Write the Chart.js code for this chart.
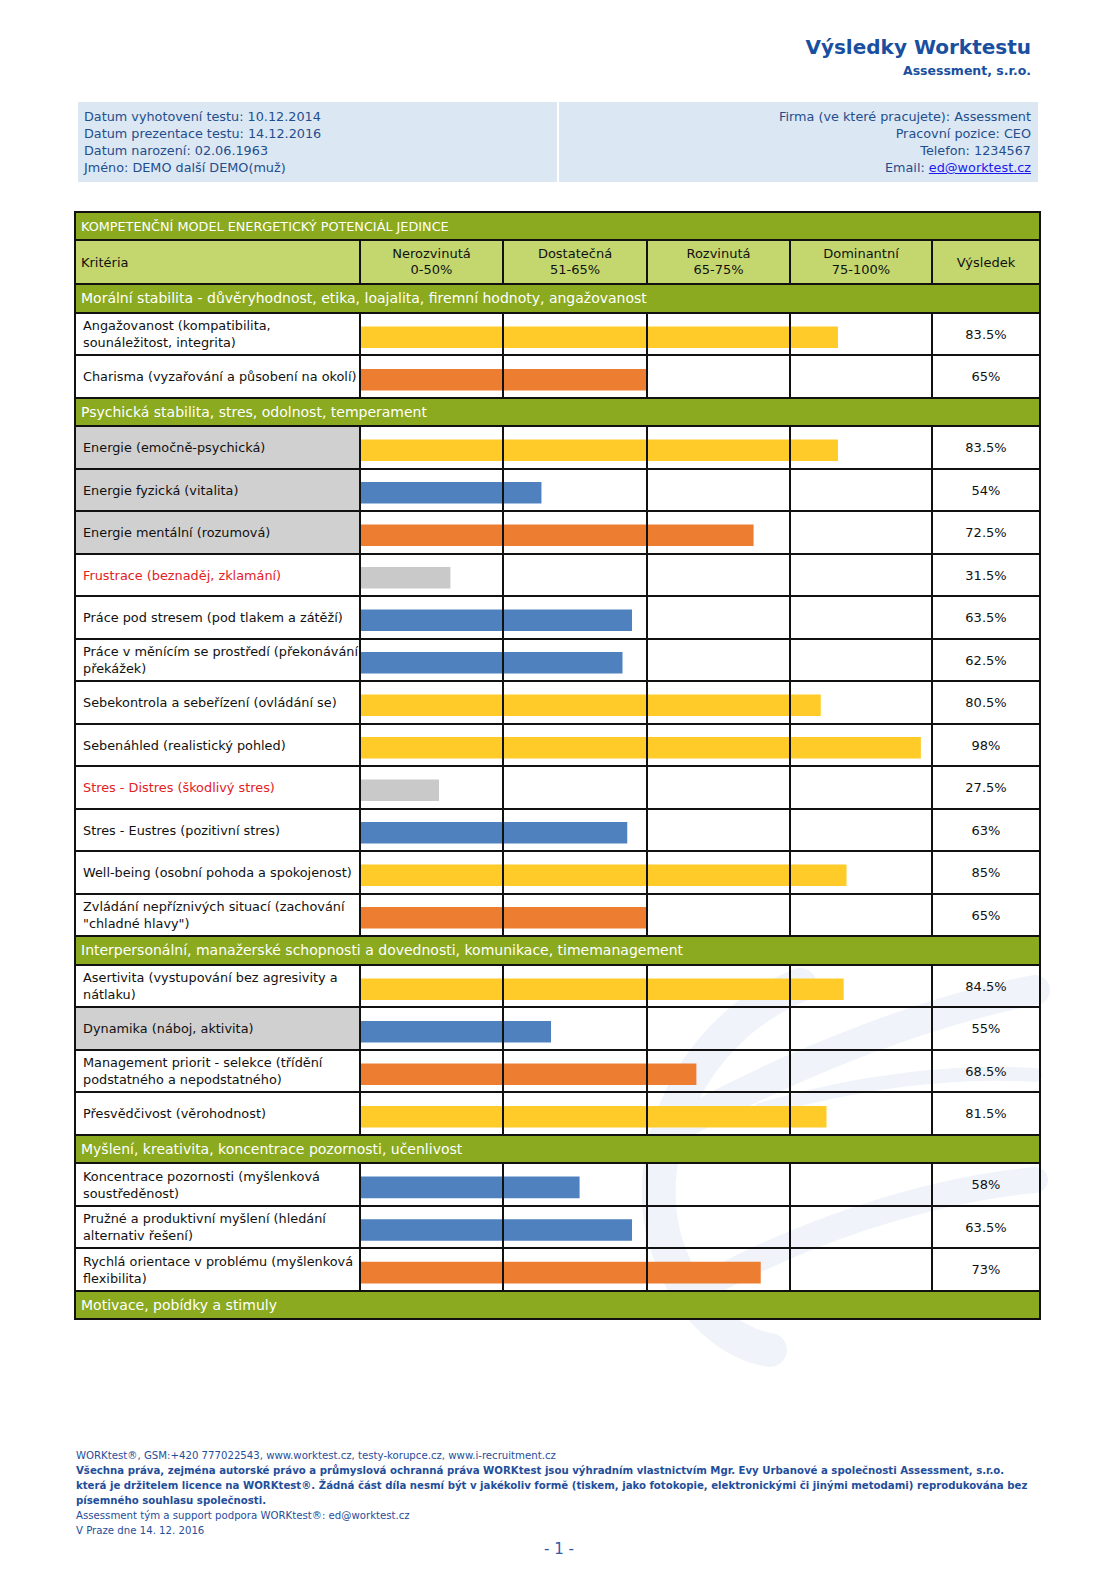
<!DOCTYPE html>
<html><head><meta charset="utf-8">
<script src="https://cdn.jsdelivr.net/npm/chart.js@4.4.1/dist/chart.umd.min.js"></script>
<style>
html,body{margin:0;padding:0;background:#fff;}
body{width:1119px;height:1582px;position:relative;overflow:hidden;font-family:"DejaVu Sans",sans-serif;}
.a{position:absolute;box-sizing:border-box;}
.cell{display:flex;align-items:center;white-space:pre;line-height:17px;font-size:13px;color:#111;}
.line{background:#111;z-index:5;}
canvas{position:absolute;z-index:2;}
.foot{position:absolute;left:76px;font-family:"DejaVu Sans Condensed","DejaVu Sans",sans-serif;font-size:11.3px;color:#1f4e9a;white-space:nowrap;line-height:15px;}
#wm{position:absolute;left:0;top:0;z-index:0;}
</style></head><body>
<svg id="wm" width="1119" height="1582">
  <g fill="none" stroke="#F0F4FA" stroke-linecap="round">
    <path d="M 800 985 C 690 1030, 640 1150, 665 1240 C 690 1320, 740 1345, 770 1350" stroke-width="34"/>
    <path d="M 690 1120 C 800 1060, 930 1010, 1035 990" stroke-width="30"/>
    <path d="M 680 1300 C 800 1230, 930 1190, 1035 1180" stroke-width="26"/>
    <path d="M 760 1110 C 860 1080, 960 1070, 1035 1075" stroke-width="14"/>
  </g>
</svg>
<script>
// ---------------- DATA ----------------
const reportTitle = "Výsledky Worktestu";
const reportCompany = "Assessment, s.r.o.";
const infoLeft = ["Datum vyhotovení testu: 10.12.2014","Datum prezentace testu: 14.12.2016","Datum narození: 02.06.1963","Jméno: DEMO další DEMO(muž)"];
const infoRight = ["Firma (ve které pracujete): Assessment","Pracovní pozice: CEO","Telefon: 1234567"];
const infoEmail = "ed@worktest.cz";
const tableTitle = "KOMPETENČNÍ MODEL ENERGETICKÝ POTENCIÁL JEDINCE";
const criteriaHeader = "Kritéria";
const resultHeader = "Výsledek";
const levelNames = ["Nerozvinutá","Dostatečná","Rozvinutá","Dominantní"];
const levelRanges = ["0-50%","51-65%","65-75%","75-100%"];
const levelBreaks = [0, 50, 65, 75, 100];
const sectionTitles = [
  "Morální stabilita - důvěryhodnost, etika, loajalita, firemní hodnoty, angažovanost",
  "Psychická stabilita, stres, odolnost, temperament",
  "Interpersonální, manažerské schopnosti a dovednosti, komunikace, timemanagement",
  "Myšlení, kreativita, koncentrace pozornosti, učenlivost",
  "Motivace, pobídky a stimuly"
];
const moralLabels = ["Angažovanost (kompatibilita,\nsounáležitost, integrita)","Charisma (vyzařování a působení na okolí)"];
const moralValues = [83.5, 65];
const psychLabels = ["Energie (emočně-psychická)","Energie fyzická (vitalita)","Energie mentální (rozumová)","Frustrace (beznaděj, zklamání)","Práce pod stresem (pod tlakem a zátěží)","Práce v měnícím se prostředí (překonávání\npřekážek)","Sebekontrola a sebeřízení (ovládání se)","Sebenáhled (realistický pohled)","Stres - Distres (škodlivý stres)","Stres - Eustres (pozitivní stres)","Well-being (osobní pohoda a spokojenost)","Zvládání nepříznivých situací (zachování\n\"chladné hlavy\")"];
const psychValues = [83.5, 54, 72.5, 31.5, 63.5, 62.5, 80.5, 98, 27.5, 63, 85, 65];
const interLabels = ["Asertivita (vystupování bez agresivity a\nnátlaku)","Dynamika (náboj, aktivita)","Management priorit - selekce (třídění\npodstatného a nepodstatného)","Přesvědčivost (věrohodnost)"];
const interValues = [84.5, 55, 68.5, 81.5];
const thinkLabels = ["Koncentrace pozornosti (myšlenková\nsoustředěnost)","Pružné a produktivní myšlení (hledání\nalternativ řešení)","Rychlá orientace v problému (myšlenková\nflexibilita)"];
const thinkValues = [58, 63.5, 73];
const motivLabels = [];
const motivValues = [];
const negativeTraits = ["Frustrace (beznaděj, zklamání)","Stres - Distres (škodlivý stres)"];
const highlightedTraits = ["Energie (emočně-psychická)","Energie fyzická (vitalita)","Energie mentální (rozumová)","Dynamika (náboj, aktivita)"];
const footerLines = [
  "WORKtest®, GSM:+420 777022543, www.worktest.cz, testy-korupce.cz, www.i-recruitment.cz",
  "Všechna práva, zejména autorské právo a průmyslová ochranná práva WORKtest jsou výhradním vlastnictvím Mgr. Evy Urbanové a společnosti Assessment, s.r.o.",
  "která je držitelem licence na WORKtest®. Žádná část díla nesmí být v jakékoliv formě (tiskem, jako fotokopie, elektronickými či jinými metodami) reprodukována bez",
  "písemného souhlasu společnosti.",
  "Assessment tým a support podpora WORKtest®: ed@worktest.cz",
  "V Praze dne 14. 12. 2016"
];
const pageNumber = "- 1 -";
// --------------------------------------

const sections = [
  {labels: moralLabels, values: moralValues},
  {labels: psychLabels, values: psychValues},
  {labels: interLabels, values: interValues},
  {labels: thinkLabels, values: thinkValues},
  {labels: motivLabels, values: motivValues}
];

function colorFor(v){
  if (v < 50) return '#C9C9C9';
  if (v < 65) return '#5081BF';
  if (v < 75) return '#ED7D31';
  return '#FFCB29';
}

// piecewise scale: each level occupies an equal quarter of the bar area
class PiecewiseScale extends Chart.LinearScale {
  _dec(v){
    const b = levelBreaks, n = b.length - 1;
    if (v <= b[0]) return 0;
    for (let i = 0; i < n; i++) {
      if (v <= b[i+1]) return (i + (v - b[i]) / (b[i+1] - b[i])) / n;
    }
    return 1;
  }
  getPixelForValue(value){
    if (value === null || value === undefined || isNaN(value)) return NaN;
    return this.getPixelForDecimal(this._dec(value));
  }
  getValueForPixel(pixel){
    const d = this.getDecimalForPixel(pixel), n = levelBreaks.length - 1;
    const i = Math.min(n - 1, Math.max(0, Math.floor(d * n)));
    return levelBreaks[i] + (d * n - i) * (levelBreaks[i+1] - levelBreaks[i]);
  }
}
PiecewiseScale.id = 'piecewise';
PiecewiseScale.defaults = Chart.LinearScale.defaults;
Chart.register(PiecewiseScale);

const body = document.body;
function box(x, y, w, h, css, text, cls){
  const d = document.createElement('div');
  d.className = 'a ' + (cls || '');
  d.style.cssText += `left:${x}px;top:${y}px;width:${w}px;height:${h}px;` + (css || '');
  if (text !== undefined) d.textContent = text;
  body.appendChild(d);
  return d;
}
function hline(y, x1, x2){ box(x1, Math.round(y) - 1, x2 - x1, 2, '', undefined, 'line'); }
function vline(x, y1, y2){ box(x - 1, Math.round(y1) - 1, 2, Math.round(y2) - Math.round(y1) + 2, '', undefined, 'line'); }

// header
box(600, 33, 431, 28, 'text-align:right;font-weight:bold;font-size:20px;color:#1a4fa0;line-height:28px;', reportTitle);
box(700, 62, 331, 18, 'text-align:right;font-weight:bold;font-size:12.5px;color:#1a4fa0;line-height:18px;', reportCompany);

// info boxes
const infoCss = 'background:#DCE7F4;font-size:12.8px;color:#1f4e8c;line-height:17px;padding-top:6px;';
const lb = box(78, 102, 479, 80, infoCss + 'padding-left:6px;');
lb.innerHTML = infoLeft.join('<br>');
const rb = box(559, 102, 479, 80, infoCss + 'padding-right:7px;text-align:right;');
rb.innerHTML = infoRight.join('<br>') + '<br>Email: <span style="color:#1a1aee;text-decoration:underline;">' + infoEmail + '</span>';

// table geometry
const X = [75, 360, 503, 647, 790, 932, 1040];
const TOP = 212, TITLE_H = 28, HEAD_H = 44, SEC_H = 28.5, ROW_H = 42.5;
const GREEN = '#8BAA1F', LIGHT = '#C4D76E';

let y = TOP;
// title row
box(X[0], y, X[6] - X[0], TITLE_H, `background:${GREEN};color:#fff;padding-left:6px;font-size:12.8px;`, tableTitle, 'cell');
y += TITLE_H;
hline(y, X[0], X[6]);
// header row
box(X[0], y, X[6] - X[0], HEAD_H, `background:${LIGHT};`);
box(X[0], y, X[1] - X[0], HEAD_H, 'padding-left:6px;', criteriaHeader, 'cell');
for (let i = 0; i < 4; i++) {
  box(X[i+1], y, X[i+2] - X[i+1], HEAD_H, 'justify-content:center;text-align:center;line-height:16px;', levelNames[i] + '\n' + levelRanges[i], 'cell');
}
box(X[5], y, X[6] - X[5], HEAD_H, 'justify-content:center;', resultHeader, 'cell');
for (let i = 1; i <= 5; i++) vline(X[i], y, y + HEAD_H);
y += HEAD_H;
hline(y, X[0], X[6]);

sections.forEach((sec, si) => {
  box(X[0], Math.round(y), X[6] - X[0], Math.round(y + SEC_H) - Math.round(y), `background:${GREEN};color:#fff;padding-left:6px;font-size:14px;`, sectionTitles[si], 'cell');
  y += SEC_H;
  hline(y, X[0], X[6]);
  const startY = y;
  sec.labels.forEach((lab, ri) => {
    const y1 = Math.round(y), y2 = Math.round(y + ROW_H);
    const bg = highlightedTraits.includes(lab) ? '#D0D0D0' : '#fff';
    const col = negativeTraits.includes(lab) ? '#E3211E' : '#111';
    box(X[0], y1, X[1] - X[0], y2 - y1, `background:${bg};color:${col};padding-left:8px;z-index:3;font-size:12.85px;`, lab, 'cell');
    box(X[5], y1, X[6] - X[5], y2 - y1, 'justify-content:center;', sec.values[ri] + '%', 'cell');
    for (let i = 1; i <= 5; i++) vline(X[i], y1, y2);
    y += ROW_H;
    hline(y, X[0], X[6]);
  });
  if (sec.labels.length) {
    const cv = document.createElement('canvas');
    const h = Math.round(sec.labels.length * ROW_H);
    cv.width = X[5] - X[1];
    cv.height = h;
    cv.style.left = X[1] + 'px';
    cv.style.top = (Math.round(startY) + 3) + 'px';
    cv.style.width = cv.width + 'px';
    cv.style.height = h + 'px';
    body.appendChild(cv);
    new Chart(cv, {
      type: 'bar',
      data: {
        labels: sec.labels,
        datasets: [{
          data: sec.values,
          backgroundColor: sec.values.map(colorFor),
          borderWidth: 0,
          barThickness: 21
        }]
      },
      options: {
        indexAxis: 'y',
        responsive: false,
        animation: false,
        devicePixelRatio: 1,
        layout: {padding: 0},
        plugins: {legend: {display: false}, tooltip: {enabled: false}},
        scales: {
          x: {type: 'piecewise', min: 0, max: 100, display: false},
          y: {type: 'category', display: false, offset: true}
        }
      }
    });
  }
});
const BOTTOM = y;
// outer border
hline(TOP, X[0], X[6]);
hline(BOTTOM, X[0], X[6]);
vline(X[0], TOP, BOTTOM);
vline(X[6], TOP, BOTTOM);

// footer
const fy = [1448, 1463, 1478, 1493, 1508, 1523];
footerLines.forEach((t, i) => {
  const d = document.createElement('div');
  d.className = 'foot';
  d.style.top = fy[i] + 'px';
  if (i >= 1 && i <= 3) d.style.fontWeight = 'bold';
  d.textContent = t;
  body.appendChild(d);
});
box(459, 1538, 200, 22, 'text-align:center;font-size:15px;color:#2a5caa;line-height:22px;', pageNumber);
</script>
</body></html>
